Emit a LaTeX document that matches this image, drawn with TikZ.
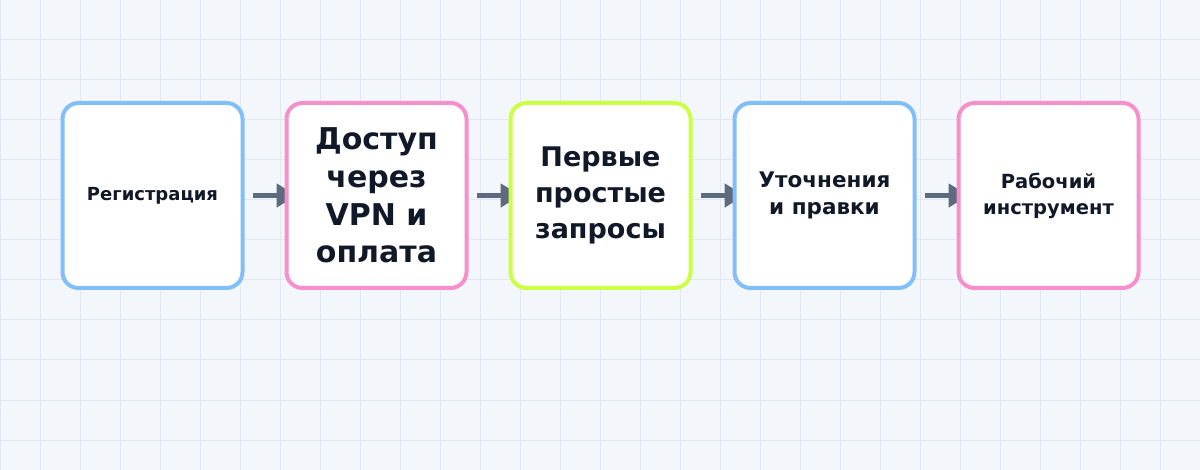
\documentclass[tikz,border=0pt]{standalone}
\usepackage{fontspec}
\setmainfont{DejaVu Sans}
\usetikzlibrary{positioning,arrows.meta,backgrounds}
\definecolor{bgcol}{HTML}{F3F7FB}
\definecolor{gridcol}{HTML}{E1E8F3}
\definecolor{myblue}{HTML}{80BFFA}
\definecolor{mypink}{HTML}{F690CC}
\definecolor{mylime}{HTML}{CCFF44}
\definecolor{myarrow}{HTML}{5E6A7E}
\definecolor{mytext}{HTML}{111827}
\tikzset{
  my step/.style={
    draw,
    fill=white,
    line width=4pt,
    rounded corners=16pt,
    minimum width=180pt,
    minimum height=185pt,
    inner sep=0pt,
    align=center,
    text=mytext,
    rectangle
  },
  my size/.style 2 args={
    font=\fontsize{#1}{#2}\selectfont\bfseries
  },
  my arrow/.style={
    -{Triangle[length=20pt,width=23pt]},
    line width=5pt,
    draw=myarrow
  },
  my grid/.style={
    draw=gridcol,
    line width=1pt
  },
  my flow/.style={
    x=1pt,
    y=-1pt,
    node distance=40pt
  }
}
\begin{document}
\begin{tikzpicture}[my flow]
\useasboundingbox (0,0) rectangle (1200,470);
\node[my step,draw=myblue,my size={18}{22}] (0) at (152.5,195.5) {Регистрация};
\node[my step,draw=mypink,my size={30}{37.7},right=of 0] (1) {Доступ\\через\\VPN и\\оплата};
\node[my step,draw=mylime,my size={27}{36},right=of 1]   (2) {Первые\\простые\\запросы};
\node[my step,draw=myblue,my size={21.5}{27},right=of 2] (3) {Уточнения\\и правки};
\node[my step,draw=mypink,my size={19.5}{26},right=of 3] (4) {Рабочий\\инструмент};
\begin{scope}[on background layer]
  \fill[bgcol] (0,0) rectangle (1200,470);
  \foreach \gx in {0,40,...,1200}
    \draw[my grid] (\gx,0) -- (\gx,470);
  \foreach \gy in {0,40,...,440}
    \draw[my grid] (0,\gy) -- (1200,\gy);
  \foreach \a/\b in {0/1,1/2,2/3,3/4}
    \draw[my arrow] ([xshift=8pt]\a.east) -- ([xshift=12pt]\b.west);
\end{scope}
\end{tikzpicture}
\end{document}
